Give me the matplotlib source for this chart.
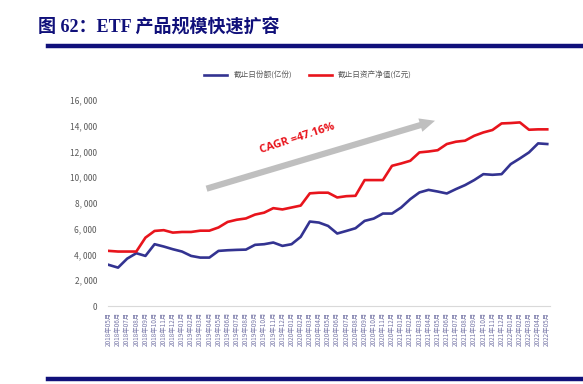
import matplotlib
matplotlib.use("Agg")
import matplotlib.pyplot as plt
from matplotlib.ticker import FuncFormatter

plt.rcParams['font.family'] = ['Noto Sans CJK SC', 'DejaVu Sans']

# monthly, 2018-05 .. 2022-05
months = [f"{y}年{m:02d}月" for y in range(2018, 2023) for m in range(1, 13)
          if (y, m) >= (2018, 5) and (y, m) <= (2022, 5)]

shares = [3190, 2980, 3680, 4100, 3890, 4800, 4620, 4410, 4230, 3890,
          3760, 3760, 4280, 4330, 4360, 4380, 4750, 4800, 4930, 4670,
          4800, 5370, 6560, 6480, 6220, 5630, 5830, 6040, 6610, 6790,
          7180, 7180, 7650, 8300, 8820, 9020, 8890, 8740, 9080, 9390,
          9780, 10240, 10190, 10240, 11020, 11460, 11930, 12630, 12580]

nav = [4280, 4230, 4230, 4230, 5310, 5830, 5890, 5700, 5750, 5750,
       5850, 5850, 6100, 6530, 6700, 6800, 7100, 7250, 7600, 7500,
       7650, 7800, 8750, 8800, 8800, 8430, 8530, 8560, 9780, 9780,
       9780, 10890, 11070, 11280, 11930, 12000, 12100, 12580, 12760, 12840,
       13220, 13480, 13670, 14180, 14210, 14260, 13690, 13720, 13720]

legend_labels = ["截止日份额(亿份)", "截止日资产净值(亿元)"]
title = "图 62：ETF 产品规模快速扩容"
cagr_text = "CAGR =47.16%"

navy = "#10107a"
blue = "#333391"
red = "#e8141c"

W, H = 583, 384
fig = plt.figure(figsize=(W / 100, H / 100), dpi=100)

# title and rules
fig.text(38 / W, 1 - 28 / H, title, fontsize=13, fontweight="bold", color=navy,
         family=["Liberation Serif", "Noto Sans CJK SC"], va="center", ha="left")
fig.add_artist(plt.Line2D([48 / W, 1], [1 - 46 / H] * 2, color=navy, lw=3.2))
fig.add_artist(plt.Line2D([48 / W, 1], [1 - 379 / H] * 2, color=navy, lw=3.2))

ax = fig.add_axes([108 / W, 1 - 306 / H, (550 - 108) / W, (306 - 100) / H])
x = list(range(len(months)))
l1, = ax.plot(x, shares, color=blue, lw=1.9)
l2, = ax.plot(x, nav, color=red, lw=1.9)

ax.set_xlim(-0.1, len(months) - 0.7)
ax.set_ylim(0, 16000)
ax.set_yticks(range(0, 16001, 2000))
ax.yaxis.set_major_formatter(FuncFormatter(lambda v, p: "0" if v == 0 else f"{int(v):,}".replace(",", ", ")))
ax.set_xticks(x)
ax.set_xticklabels(months, rotation=90, fontsize=4.6, color="#7878a8")
ax.tick_params(axis="y", length=0, labelsize=6, labelcolor="#595959", pad=8)
ax.tick_params(axis="x", length=0, pad=4)
for s in ["top", "right", "left"]:
    ax.spines[s].set_visible(False)
ax.spines["bottom"].set_color("#d9d9d9")
ax.spines["bottom"].set_linewidth(0.8)

# growth arrow + CAGR label
ax.annotate("", xy=(36.0, 14450), xytext=(10.4, 9050),
            arrowprops=dict(arrowstyle="simple,head_length=1.1,head_width=1.0,tail_width=0.45",
                            color="#bfbfbf", lw=0))
ax.text(20.6, 13000, cagr_text, color=red, fontsize=8, fontweight="bold",
        rotation=18, ha="center", va="center", family=["Open Sans", "DejaVu Sans"])

fig.legend([l1, l2], legend_labels, loc="center", bbox_to_anchor=(308 / W, 1 - 76 / H),
           ncol=2, frameon=False, fontsize=5.5, handlelength=3, columnspacing=2.2,
           labelcolor="#595959")

fig.savefig("out.png", dpi=100)
